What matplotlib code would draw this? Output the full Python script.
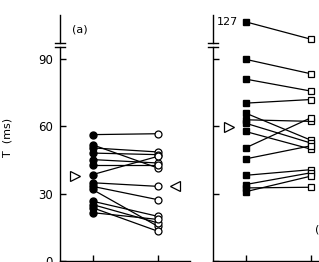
import numpy as np
from matplotlib import pyplot as plt

# panel (a): circles
before_a = [56.2, 51.7, 50.3, 48.0, 45.1, 42.9, 38.4, 34.8, 33.2, 31.8, 26.6, 25.1, 23.7, 21.5]
after_a = [56.6, 41.4, 48.5, 47.3, 43.6, 42.9, 46.5, 33.2, 27.3, 15.5, 19.9, 17.0, 13.3, 18.5]
mean_a = (37.9, 33.3)

# panel (b): squares
before_b = [127, 89.7, 80.9, 70.2, 65.8, 62.8, 61.3, 57.6, 50.3, 45.4, 38.1, 34.0, 32.5, 30.8]
after_b = [104, 83.3, 75.6, 71.8, 53.8, 62.1, 52.5, 49.8, 63.6, 51.2, 40.6, 39.2, 32.8, 37.7]
mean_b = (59.7, 55.0)

yticks = [0, 30, 60, 90]

# broken y axis: compress everything above BREAK
BREAK = 96.0
SQUEEZE = 0.335


def fwd(t):
    t = np.asarray(t, dtype=float)
    return np.where(t <= BREAK, t, BREAK + (t - BREAK) * SQUEEZE)


def inv(u):
    u = np.asarray(u, dtype=float)
    return np.where(u <= BREAK, u, BREAK + (u - BREAK) / SQUEEZE)


def setup_axis(ax, labels):
    ax.set_yscale("function", functions=(fwd, inv))
    ax.set_xlim(-0.5, 1.5)
    ax.set_ylim(0, 136)
    for side in ("top", "right", "left"):
        ax.spines[side].set_visible(False)
    ax.spines["bottom"].set_linewidth(1.0)
    ax.set_xticks([0, 1])
    ax.set_xticklabels([])
    ax.set_yticks(yticks)
    ax.set_yticklabels([str(v) for v in yticks] if labels else [])
    ax.tick_params(direction="in", length=4, width=1.0, pad=5, labelsize=8.5)
    # left spine with a break
    tr = ax.get_yaxis_transform()
    kw = dict(color="black", lw=1.0, transform=tr, clip_on=False)
    ax.plot([0, 0], [0, 95], **kw)
    ax.plot([0, 0], [99, 136], **kw)
    ax.plot([-0.035, 0.035], [95, 95], **kw)
    ax.plot([-0.035, 0.035], [99, 99], **kw)
    ax.patch.set_visible(False)


def draw_pairs(ax, before, after, marker):
    for b, a in zip(before, after):
        ax.plot([0, 1], [b, a], color="black", lw=0.9, zorder=2)
    ax.plot([0] * len(before), before, ls="none", marker=marker, ms=5,
            mfc="black", mec="black", zorder=3)
    ax.plot([1] * len(after), after, ls="none", marker=marker, ms=5,
            mfc="white", mec="black", mew=0.9, zorder=3)


fig = plt.figure(figsize=(3.19, 2.62), dpi=100)
ax_a = fig.add_axes([60 / 319, 1 / 262, 130 / 319, 246 / 262])
ax_b = fig.add_axes([213 / 319, 1 / 262, 130 / 319, 246 / 262])

setup_axis(ax_a, labels=True)
setup_axis(ax_b, labels=False)

draw_pairs(ax_a, before_a, after_a, "o")
draw_pairs(ax_b, before_b, after_b, "s")

# mean markers
tri = dict(ls="none", ms=7, mfc="white", mec="black", mew=0.9, clip_on=False)
ax_a.plot([-0.27], [mean_a[0]], marker=">", **tri)
ax_a.plot([1.27], [mean_a[1]], marker="<", **tri)
ax_b.plot([-0.25], [mean_b[0]], marker=">", **tri)
ax_b.plot([1.27], [mean_b[1]], marker="<", **tri)

ax_a.text(-0.31, 117, "(a)", fontsize=8, ha="left", va="center")
ax_b.text(-0.12, 127, "127", fontsize=8, ha="right", va="center")
ax_b.text(1.07, 13.8, "(b)", fontsize=8, ha="left", va="center", clip_on=False)

fig.text(8 / 319, 1 - 137 / 262, "T  (ms)", rotation=90, fontsize=8,
         ha="center", va="center")

fig.savefig("out.png", dpi=100)
